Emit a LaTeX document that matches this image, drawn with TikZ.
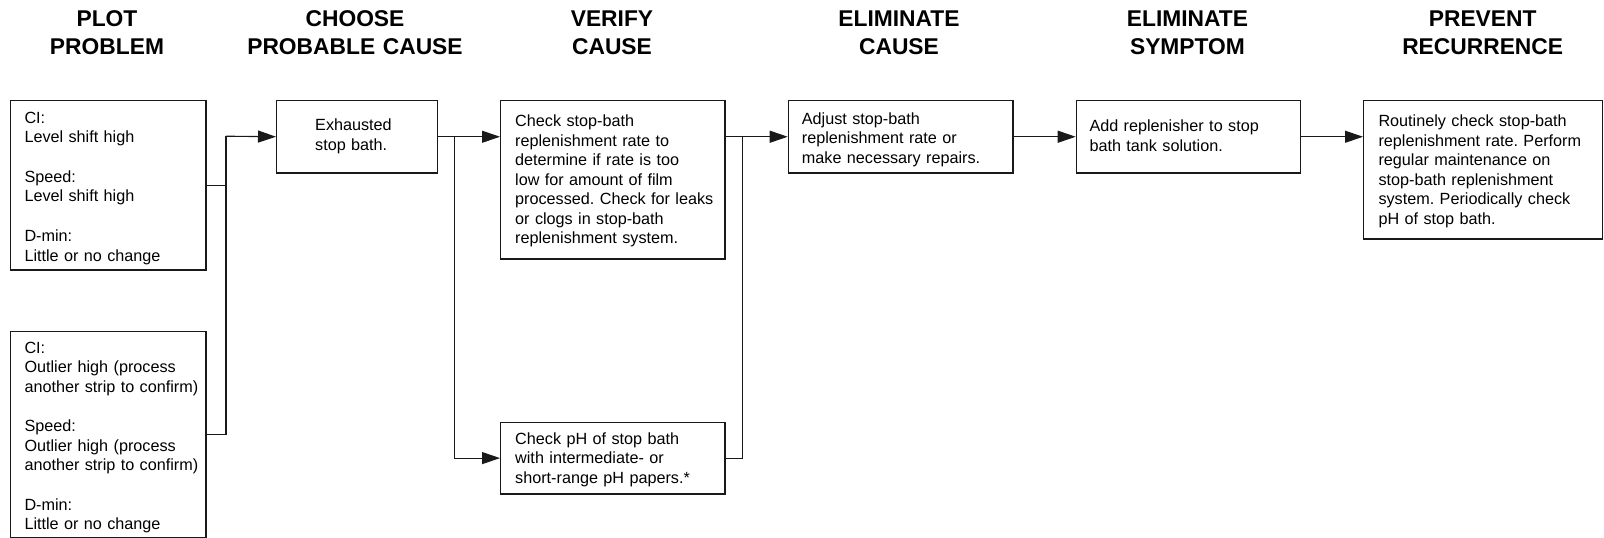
\documentclass[tikz,border=0pt]{standalone}
\usepackage{fontspec}
\setmainfont{Liberation Sans}
\usetikzlibrary{arrows.meta}
\frenchspacing

\tikzset{
  box/.style={draw=black!90, line width=1.2pt, inner sep=0pt, anchor=north west},
  body/.style={anchor=north west, inner sep=0pt, text width=240pt, align=left,
               font=\fontsize{16.2}{19.5}\selectfont},
  head/.style={anchor=north, inner sep=0pt, text width=400pt, align=center,
               font=\bfseries\fontsize{22.8}{27.4}\selectfont},
  link/.style={draw=black!90, line width=1.1pt},
  arr/.style={link, -{Triangle[length=18pt,width=12pt]}},
}
\newcommand{\firstline}{\rule{0pt}{12pt}}
\newcommand{\headline}{\rule{0pt}{17pt}}

\begin{document}
\begin{tikzpicture}[x=1pt, y=-1pt]
\useasboundingbox (0,0) rectangle (1604,538);

% column headings
\node[head] (h1) at (107,9.7)    {\headline PLOT\\PROBLEM};
\node[head] (h2) at (355,9.7)    {\headline CHOOSE\\PROBABLE CAUSE};
\node[head] (h3) at (612,9.7)    {\headline VERIFY\\CAUSE};
\node[head] (h4) at (899,9.7)    {\headline ELIMINATE\\CAUSE};
\node[head] (h5) at (1187.5,9.7) {\headline ELIMINATE\\SYMPTOM};
\node[head] (h6) at (1482.7,9.7) {\headline PREVENT\\RECURRENCE};

% boxes
\node[box, minimum width=195.3pt, minimum height=169.3pt] (plotA)   at (10,100) {};
\node[box, minimum width=195.3pt, minimum height=206pt]   (plotB)   at (10,330.7) {};
\node[box, minimum width=160.7pt, minimum height=72.3pt]  (cause)   at (276,100) {};
\node[box, minimum width=224.3pt, minimum height=158.3pt] (verify)  at (500,100) {};
\node[box, minimum width=224.3pt, minimum height=71.6pt]  (ph)      at (500,421.7) {};
\node[box, minimum width=224.6pt, minimum height=72.3pt]  (adjust)  at (787.7,100) {};
\node[box, minimum width=223.8pt, minimum height=72.3pt]  (add)     at (1075.7,100) {};
\node[box, minimum width=239.2pt, minimum height=138.4pt] (prevent) at (1363,100) {};

% box texts
\node[body] (plotA-t) at (24.3,110.9) {\firstline CI:\\Level shift high\\[20.2pt]Speed:\\Level shift high\\[20.2pt]D-min:\\Little or no change};
\node[body] (plotB-t) at (24.3,340.8) {\firstline CI:\\Outlier high (process\\another strip to confirm)\\[20.2pt]Speed:\\Outlier high (process\\another strip to confirm)\\[20.2pt]D-min:\\Little or no change};
\node[body] (cause-t) at (315,118.7) {\firstline Exhausted\\stop bath.};
\node[body] (verify-t) at (515,114.5) {\firstline Check stop-bath\\replenishment rate to\\determine if rate is too\\low for amount of film\\processed. Check for leaks\\or clogs in stop-bath\\replenishment system.};
\node[body] (ph-t) at (515,432) {\firstline Check pH of stop bath\\with intermediate- or\\short-range pH papers.*};
\node[body] (adjust-t) at (801.7,112) {\firstline Adjust stop-bath\\replenishment rate or\\make necessary repairs.};
\node[body] (add-t) at (1089.3,119.7) {\firstline Add replenisher to stop\\bath tank solution.};
\node[body] (prevent-t) at (1378.3,114.7) {\firstline Routinely check stop-bath\\replenishment rate. Perform\\regular maintenance on\\stop-bath replenishment\\system. Periodically check\\pH of stop bath.};

% connectors
\coordinate (j1) at (226,136.2);
\draw[link] (plotA.east) -| (j1);
\draw[link] (plotB.east) -| (j1);
\draw[arr] (j1) -- (cause.west);

\coordinate (j2) at (454.3,136.2);
\draw[arr] (cause.east) -- (verify.west |- cause.east);
\draw[arr] (j2) |- (ph.west);

\coordinate (j3) at (742.3,136.2);
\draw[arr] (verify.east |- adjust.west) -- (adjust.west);
\draw[link] (ph.east) -| (j3);

\draw[arr] (adjust.east) -- (add.west);
\draw[arr] (add.east) -- (prevent.west |- add.east);
\end{tikzpicture}
\end{document}
